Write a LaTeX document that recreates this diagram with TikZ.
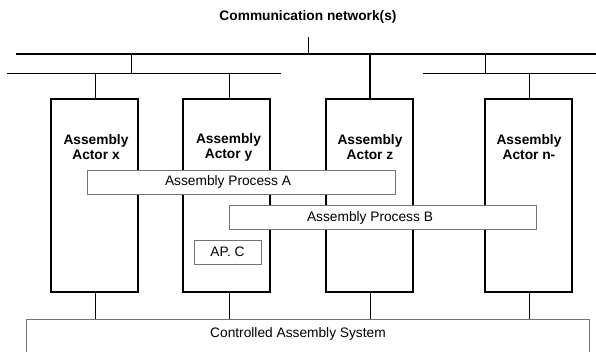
\documentclass[tikz,border=0pt]{standalone}
\usepackage{fontspec}
\setmainfont{Liberation Sans}
\usetikzlibrary{positioning}

\begin{document}
\begin{tikzpicture}[
            x = 0.75pt, y = -0.75pt, % pixel grid, y downwards
            font = \fontsize{10.3}{11.3}\selectfont,
            bus/.style = {line width = 1.5pt},
            link/.style = {line width = 0.75pt},
            actor/.style = {draw, line width = 1.5pt, minimum width = 65.25pt,
                minimum height = 144.75pt, inner sep = 0pt},
            proc/.style = {draw = black!55, line width = 0.75pt, fill = white,
                minimum height = 18pt, inner sep = 0pt},
            lbl/.style = {align = center, inner sep = 0pt},
            acttxt/.style = {lbl, font = \fontsize{10.3}{11.25pt}\selectfont\bfseries}
        ]

        \useasboundingbox (0,0) rectangle (596,351);

        \node[lbl, font = \fontsize{10.3}{11.3}\selectfont\bfseries] (title) at (308,17) {Communication network(s)};

        % the networks
        \coordinate (t1) at (16,54);   \coordinate (t2) at (596,54);
        \coordinate (l1) at (7,73);    \coordinate (l2) at (281,73);
        \coordinate (r1) at (423,73);  \coordinate (r2) at (596,73);
        \coordinate (tk) at (308,37);

        \draw[bus] (t1) -- (t2);
        \draw[link] (l1) -- (l2);
        \draw[link] (r1) -- (r2);
        \draw[link] (tk) -- (tk |- t1);
        \draw[link] (131,54 |- t1) -- (131,73 |- l1);
        \draw[link] (485,54 |- t1) -- (485,73 |- r1);

        % actors
        \node[actor] (ax) at (94.5,195.5) {};
        \node[actor] (ay) at (226.5,195.5) {};
        \node[actor] (az) at (369,195.5) {};
        \node[actor] (an) at (528.5,195.5) {};

        \node[acttxt] (ax-t) at (96,147) {Assembly\\Actor x};
        \node[acttxt] (ay-t) at (228.5,147) {Assembly\\Actor y};
        \node[acttxt] (az-t) at (370,147) {Assembly\\Actor z};
        \node[acttxt] (an-t) at (529,147) {Assembly\\Actor n-};

        \draw[link] ([xshift=1pt]ax.north) -- ([xshift=1pt]ax.north |- l1);
        \draw[link] ([xshift=2pt]ay.north) -- ([xshift=2pt]ay.north |- l1);
        \draw[bus] ([xshift=0.75pt]az.north) -- ([xshift=0.75pt]az.north |- t1);
        \draw[link] ([xshift=0.4pt]an.north) -- ([xshift=0.4pt]an.north |- r1);

        % processes
        \node[proc, minimum width = 231pt] (pa) at (241,182) {};
        \node[proc, minimum width = 230.25pt] (pb) at (382.5,217.5) {};
        \node[proc, minimum width = 50.25pt] (pc) at (227.5,252) {AP. C};
        \node[lbl] (pa-t) at (228,182) {Assembly Process A};
        \node[lbl] (pb-t) at (370,217.5) {Assembly Process B};

        % controlled system
        \node[draw = black!55, line width = 0.75pt, minimum width = 422.25pt,
            minimum height = 33pt, inner sep = 0pt] (cas) at (307.5,341) {};
        \node[lbl] (cas-t) at (298,334) {Controlled Assembly System};

        \draw[link] ([xshift=1pt]ax.south) -- ([xshift=1pt]ax.south |- cas.north);
        \draw[link] ([xshift=2pt]ay.south) -- ([xshift=2pt]ay.south |- cas.north);
        \draw[link] ([xshift=0.75pt]az.south) -- ([xshift=0.75pt]az.south |- cas.north);
        \draw[link] ([xshift=0.4pt]an.south) -- ([xshift=0.4pt]an.south |- cas.north);

  \end{tikzpicture}
\end{document}
